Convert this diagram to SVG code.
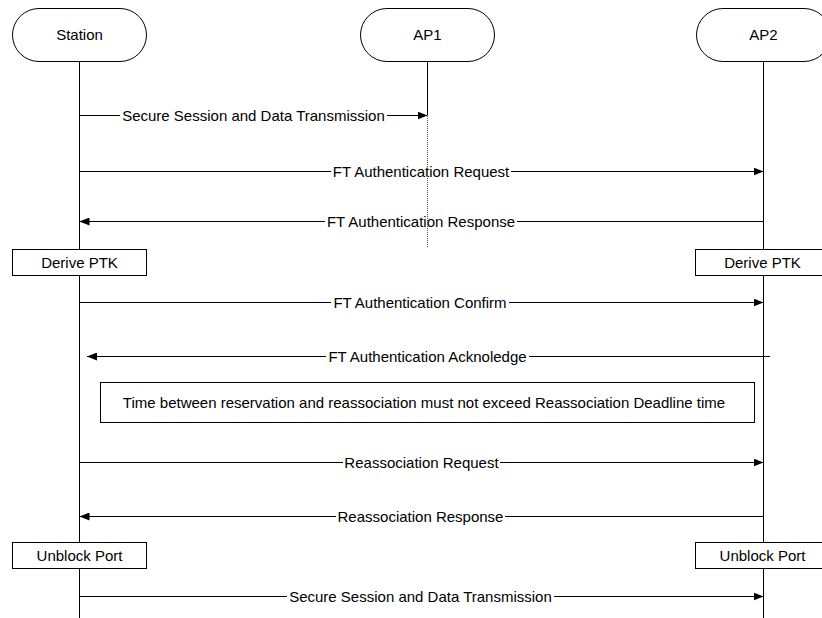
<svg xmlns="http://www.w3.org/2000/svg" width="822" height="618" viewBox="0 0 822 618">
  <defs>
    <marker id="arrow" viewBox="0 0 10 8" refX="10" refY="4" markerWidth="10" markerHeight="8" markerUnits="userSpaceOnUse" orient="auto">
      <path d="M0,0 L10,4 L0,8 Z" fill="#000"/>
    </marker>
    <style>
      text { font-family: "Liberation Sans", Arial, sans-serif; font-size: 15px; fill: #000; }
      .mid { text-anchor: middle; }
      .actor { fill: #fff; stroke: #000; stroke-width: 1; }
      .box { fill: #fff; stroke: #000; stroke-width: 1; }
      .life { stroke: #000; stroke-width: 1; fill: none; }
      .dotted { stroke: #555; stroke-width: 1; stroke-dasharray: 1 1; fill: none; }
      .msg { stroke: #000; stroke-width: 1; fill: none; }
      .lblbg { fill: #fff; }
    </style>
  </defs>

  <rect width="822" height="618" fill="#fff"/>

  <!-- lifelines -->
  <g id="lifelines">
    <line class="life" x1="79.5" y1="62" x2="79.5" y2="618"/>
    <line class="life" x1="763.5" y1="62" x2="763.5" y2="618"/>
    <line class="life" x1="427.5" y1="62" x2="427.5" y2="115"/>
  </g>

  <!-- actors -->
  <g id="station">
    <rect class="actor" x="12.5" y="8.5" width="134" height="53" rx="26.5" ry="26.5"/>
    <text class="mid" x="79.5" y="40">Station</text>
  </g>
  <g id="ap1">
    <rect class="actor" x="360.5" y="8.5" width="134" height="53" rx="26.5" ry="26.5"/>
    <text class="mid" x="427.5" y="40">AP1</text>
  </g>
  <g id="ap2">
    <rect class="actor" x="696.5" y="8.5" width="134" height="53" rx="26.5" ry="26.5"/>
    <text class="mid" x="763.5" y="40">AP2</text>
  </g>

  <!-- messages -->
  <g id="connectors">
    <line class="msg" x1="79.5" y1="115.5" x2="427.5" y2="115.5" marker-end="url(#arrow)"/>
    <line class="msg" x1="79.5" y1="171.5" x2="763.5" y2="171.5" marker-end="url(#arrow)"/>
    <line class="msg" x1="763.5" y1="221.5" x2="79.5" y2="221.5" marker-end="url(#arrow)"/>
    <line class="msg" x1="79.5" y1="302.5" x2="763.5" y2="302.5" marker-end="url(#arrow)"/>
    <line class="msg" x1="770" y1="356.5" x2="87" y2="356.5" marker-end="url(#arrow)"/>
    <line class="msg" x1="79.5" y1="462.5" x2="763.5" y2="462.5" marker-end="url(#arrow)"/>
    <line class="msg" x1="763.5" y1="516.5" x2="79.5" y2="516.5" marker-end="url(#arrow)"/>
    <line class="msg" x1="79.5" y1="596.5" x2="763.5" y2="596.5" marker-end="url(#arrow)"/>

    <g id="labels">
      <rect class="lblbg" x="120" y="108" width="267" height="15"/>
      <text class="mid" x="253.5" y="120.8">Secure Session and Data Transmission</text>
      <rect class="lblbg" x="331" y="164" width="180" height="15"/>
      <text class="mid" x="421" y="176.8">FT Authentication Request</text>
      <rect class="lblbg" x="325" y="214" width="192" height="15"/>
      <text class="mid" x="421" y="226.8">FT Authentication Response</text>
      <rect class="lblbg" x="331" y="295" width="178" height="15"/>
      <text class="mid" x="420" y="307.8">FT Authentication Confirm</text>
      <rect class="lblbg" x="326" y="349" width="203" height="15"/>
      <text class="mid" x="427.5" y="361.8">FT Authentication Acknoledge</text>
      <rect class="lblbg" x="343" y="455" width="157" height="15"/>
      <text class="mid" x="421.5" y="467.8">Reassociation Request</text>
      <rect class="lblbg" x="336" y="509" width="169" height="15"/>
      <text class="mid" x="420.5" y="521.8">Reassociation Response</text>
      <rect class="lblbg" x="287" y="589" width="267" height="15"/>
      <text class="mid" x="420.5" y="601.8">Secure Session and Data Transmission</text>
    </g>
    <!-- dotted continuation of AP1 lifeline, drawn over the labels -->
    <line class="dotted" x1="427.5" y1="116" x2="427.5" y2="248"/>
  </g>

  <!-- actions -->
  <g id="station-derive-ptk">
    <rect class="box" x="12.5" y="249.5" width="134" height="26"/>
    <text class="mid" x="79.5" y="267.8">Derive PTK</text>
  </g>
  <g id="ap2-derive-ptk">
    <rect class="box" x="695.5" y="249.5" width="134" height="26"/>
    <text class="mid" x="762.5" y="267.8">Derive PTK</text>
  </g>
  <g id="deadline-note">
    <rect class="box" x="100.5" y="382.5" width="654" height="40"/>
    <text class="mid" x="424" y="407.8">Time between reservation and reassociation must not exceed Reassociation Deadline time</text>
  </g>
  <g id="station-unblock-port">
    <rect class="box" x="12.5" y="542.5" width="134" height="26"/>
    <text class="mid" x="79.5" y="560.8">Unblock Port</text>
  </g>
  <g id="ap2-unblock-port">
    <rect class="box" x="695.5" y="542.5" width="134" height="26"/>
    <text class="mid" x="762.5" y="560.8">Unblock Port</text>
  </g>
</svg>
